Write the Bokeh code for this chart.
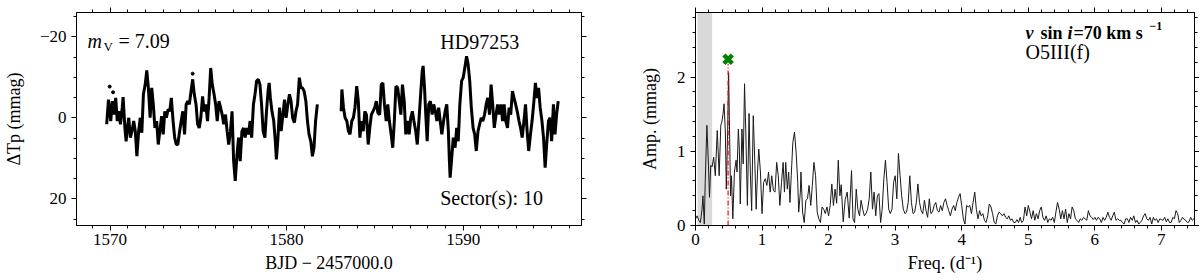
from bokeh.plotting import figure
from bokeh.layouts import row
from bokeh.models import (Range1d, LinearAxis, SingleIntervalTicker, CustomJSTickFormatter,
                          Label, BoxAnnotation)
from bokeh.embed import file_html
from bokeh.resources import INLINE

FONT = "Liberation Serif"

# ---------------- light curve (BJD - 2457000, dTp in mmag) ----------------
seg1_bjd = [
    1569.81, 1569.91, 1570.04, 1570.13, 1570.22, 1570.32, 1570.41, 1570.50, 1570.59, 1570.69,
    1570.74, 1570.84, 1570.91, 1570.98, 1571.06, 1571.15, 1571.24, 1571.34, 1571.43, 1571.52,
    1571.62, 1571.71, 1571.80, 1571.89, 1571.99, 1572.08, 1572.17, 1572.27, 1572.36, 1572.45,
    1572.54, 1572.64, 1572.73, 1572.82, 1572.92, 1573.01, 1573.10, 1573.19, 1573.29, 1573.38,
    1573.47, 1573.57, 1573.66, 1573.75, 1573.84, 1573.94, 1574.03, 1574.12, 1574.22, 1574.31,
    1574.40, 1574.49, 1574.59, 1574.68, 1574.77, 1574.87, 1574.96, 1575.05, 1575.14, 1575.24,
    1575.33, 1575.42, 1575.52, 1575.61, 1575.70, 1575.79, 1575.89, 1575.98, 1576.07, 1576.17,
    1576.26, 1576.35, 1576.44, 1576.54, 1576.63, 1576.72, 1576.82, 1576.91, 1577.00, 1577.09,
    1577.19, 1577.28, 1577.37, 1577.47, 1577.56, 1577.65, 1577.74, 1577.84, 1577.93, 1578.02,
    1578.12, 1578.21, 1578.30, 1578.39, 1578.49, 1578.58, 1578.67, 1578.77, 1578.86, 1578.95,
    1579.01, 1579.08, 1579.17, 1579.27, 1579.36, 1579.42, 1579.51, 1579.60, 1579.69, 1579.79,
    1579.88, 1579.97, 1580.07, 1580.16, 1580.25, 1580.34, 1580.44, 1580.53, 1580.62, 1580.72,
    1580.81, 1580.90, 1580.99, 1581.09, 1581.18, 1581.27, 1581.37, 1581.46, 1581.55, 1581.64,
    1581.74]
seg1_dtp = [
    1.6, -4.5, 0.8, -4.1, -0.8, -4.9, 0.8, -1.6, 1.6, -2.5,
    -5.1, 2.5, 5.8, 2.5, 0.0, 4.9, 3.3, 0.8, 3.3, 9.5,
    3.3, 0.0, 3.7, -5.8, -8.2, -11.7, -7.4, 0.0, -7.4, -3.3,
    2.5, 0.8, 6.6, 3.3, -0.4, 4.1, -1.6, 0.0, -2.1, -1.6,
    -4.9, 0.8, 4.9, 6.6, 6.6, 3.3, 0.8, -1.6, 4.1, -3.3,
    -4.1, -3.3, -6.6, -9.5, -5.8, -3.3, 1.6, 2.5, 0.0, -5.3,
    -1.6, -3.3, 0.8, -4.9, -12.3, -8.2, -5.8, -3.3, 0.8, -4.1,
    -2.5, -0.8, 1.6, -0.8, 3.3, 6.6, 3.3, -1.6, 10.7, 15.6,
    9.1, 4.9, 10.7, 3.3, 2.5, 4.9, 2.5, 4.1, 0.8, 4.9,
    -3.3, -5.8, -9.1, -9.5, -8.2, -3.3, 3.3, 4.9, -1.6, -6.6,
    -8.6, -4.9, -1.6, 0.8, 5.8, 10.3, 4.9, -2.5, 3.3, -0.8,
    -4.5, 0.0, -3.3, -5.8, -4.1, 0.0, 1.2, -1.6, -3.3, -9.9,
    -7.4, -7.4, -6.6, -4.1, 0.8, 4.1, 5.8, 9.5, 7.4, 0.8,
    -3.3]

seg2_bjd = [
    1583.09, 1583.13, 1583.22, 1583.31, 1583.41, 1583.50, 1583.59, 1583.69, 1583.78, 1583.87,
    1583.97, 1584.06, 1584.15, 1584.24, 1584.34, 1584.43, 1584.52, 1584.62, 1584.71, 1584.80,
    1584.89, 1584.99, 1585.08, 1585.17, 1585.27, 1585.36, 1585.45, 1585.54, 1585.64, 1585.73,
    1585.82, 1585.92, 1586.01, 1586.10, 1586.19, 1586.29, 1586.38, 1586.47, 1586.56, 1586.66,
    1586.75, 1586.84, 1586.94, 1587.03, 1587.12,
    1587.21, 1587.31, 1587.40, 1587.49, 1587.59, 1587.68, 1587.73, 1587.81, 1587.88, 1587.96,
    1588.05, 1588.14, 1588.24, 1588.33, 1588.42, 1588.51, 1588.61, 1588.70, 1588.79, 1588.89,
    1588.98, 1589.07, 1589.16, 1589.22, 1589.26, 1589.35, 1589.44, 1589.54, 1589.63, 1589.72,
    1589.81, 1589.91, 1590.00, 1590.09, 1590.19, 1590.28, 1590.37, 1590.46, 1590.56, 1590.65,
    1590.74, 1590.84, 1590.93, 1591.02, 1591.11, 1591.21, 1591.30, 1591.39, 1591.49, 1591.58,
    1591.67, 1591.76, 1591.86, 1591.95, 1592.04, 1592.14, 1592.23, 1592.32, 1592.41, 1592.51,
    1592.60, 1592.69, 1592.79, 1592.88, 1592.97, 1593.06, 1593.16, 1593.25, 1593.34, 1593.44,
    1593.53, 1593.62, 1593.71, 1593.81, 1593.90, 1593.99, 1594.09, 1594.18, 1594.27, 1594.36,
    1594.46, 1594.55, 1594.64, 1594.74, 1594.83, 1594.92, 1595.01, 1595.11, 1595.20, 1595.29,
    1595.38]
seg2_dtp = [
    -1.6, -7.0, -2.5, 0.0, 0.8, 3.3, 4.1, 0.8, 0.0, -2.5,
    -7.8, -4.1, 4.9, 0.8, 3.3, -1.6, -0.8, 6.6, 2.5, -0.8,
    -1.6, -2.5, -4.1, -1.2, -0.8, -8.2, -8.6, -3.3, 0.8, -3.3,
    0.8, 4.1, 7.4, 0.8, -7.8, -7.4, -4.1, -0.8, -8.2, -4.1,
    4.1, 0.8, 4.1, 0.0, -1.6,
    0.8, 3.3, 6.6, 0.8, -5.8, -11.5, -12.8, -7.4, -0.8, 5.8,
    -3.3, -4.1, -0.8, -3.3, -1.6, 0.8, -2.5, 0.8, 4.1, 0.8,
    -1.6, -3.3, 3.3, 10.7, 14.8, 9.9, 4.9, 7.4, 2.5, 5.8,
    -3.3, -9.1, -9.9, -12.3, -15.2, -13.2, -9.1, -2.5, 2.5, 4.1,
    8.2, 3.3, 1.6, 0.0, 0.8, -0.8, -3.3, -4.9, -0.8, -8.2,
    -3.3, 2.5, -0.8, -3.3, -0.8, -3.3, 0.8, -3.3, 0.8, 2.5,
    -2.5, -0.8, -6.6, -4.9, -3.3, -1.6, 0.8, 2.5, 4.9, 0.8,
    -3.3, 3.3, 8.2, 4.1, 0.8, -3.3, -8.6, -4.9, -7.4, -2.5,
    0.8, 4.9, 12.3, 5.8, 0.8, 0.0, 5.8, -3.3, 4.1, -0.8,
    -4.1]

outlier_bjd = [1569.98, 1570.17, 1574.68]
outlier_dtp = [-7.7, -6.3, -10.9]

# ---------------- amplitude spectrum ----------------
freq = [
    0.000, 0.024, 0.049, 0.073, 0.098, 0.112, 0.132, 0.146, 0.171, 0.195,
    0.210, 0.229, 0.249, 0.273, 0.298, 0.327, 0.356, 0.380, 0.395, 0.415,
    0.429, 0.449, 0.463, 0.483, 0.498, 0.512, 0.527, 0.541, 0.561, 0.585,
    0.610, 0.624, 0.644, 0.659, 0.673, 0.698, 0.717, 0.737, 0.756, 0.780,
    0.805, 0.824, 0.844, 0.868, 0.893, 0.912, 0.932, 0.951, 0.976, 1.000,
    1.024, 1.049, 1.073, 1.098, 1.122, 1.146, 1.171, 1.195, 1.220, 1.244,
    1.268, 1.293, 1.317, 1.337, 1.356, 1.380, 1.400, 1.420, 1.439, 1.463,
    1.488, 1.512, 1.537, 1.551, 1.576, 1.585, 1.610, 1.634, 1.659, 1.683,
    1.707, 1.732, 1.756, 1.780, 1.805, 1.829, 1.854, 1.878, 1.902, 1.927,
    1.951, 1.976, 2.000, 2.024, 2.049, 2.073, 2.098, 2.122, 2.146, 2.170,
    2.190, 2.220, 2.250, 2.280, 2.310, 2.345, 2.367, 2.391, 2.416, 2.440,
    2.465, 2.489, 2.513, 2.538, 2.562, 2.587, 2.611, 2.635, 2.660, 2.684,
    2.709, 2.733, 2.757, 2.782, 2.806, 2.831, 2.855, 2.879, 2.904, 2.928,
    2.953, 2.977, 3.001, 3.026, 3.050, 3.075, 3.099, 3.123, 3.148, 3.172,
    3.197, 3.221, 3.245, 3.270, 3.294, 3.319, 3.343, 3.367, 3.392, 3.416,
    3.441, 3.465, 3.489, 3.514, 3.538, 3.562, 3.587, 3.611, 3.636, 3.660,
    3.684, 3.709, 3.733, 3.758, 3.782, 3.806, 3.831, 3.855, 3.880, 3.904,
    3.928, 3.953, 3.977, 4.001, 4.026, 4.050, 4.075, 4.099, 4.123, 4.148,
    4.172, 4.197, 4.221, 4.246, 4.270, 4.294, 4.319, 4.343, 4.367, 4.392,
    4.416, 4.441, 4.465, 4.490, 4.514, 4.538, 4.563, 4.587, 4.612, 4.636,
    4.661, 4.685, 4.709, 4.734, 4.758, 4.783, 4.807, 4.831, 4.856, 4.880,
    4.904, 4.929, 4.953, 4.978, 5.002, 5.027, 5.051, 5.075, 5.100, 5.124,
    5.149, 5.173, 5.197, 5.222, 5.246, 5.271, 5.295, 5.319, 5.344, 5.368,
    5.393, 5.417, 5.441, 5.466, 5.490, 5.515, 5.539, 5.563, 5.588, 5.612,
    5.637, 5.661, 5.685, 5.710, 5.734, 5.759, 5.783, 5.807, 5.832, 5.856,
    5.881, 5.905, 5.929, 5.954, 5.978, 6.003, 6.027, 6.051, 6.076, 6.100,
    6.125, 6.149, 6.173, 6.198, 6.222, 6.247, 6.271, 6.295, 6.320, 6.344,
    6.369, 6.393, 6.417, 6.442, 6.466, 6.491, 6.515, 6.539, 6.564, 6.588,
    6.613, 6.637, 6.661, 6.686, 6.710, 6.735, 6.759, 6.783, 6.808, 6.832,
    6.857, 6.881, 6.905, 6.930, 6.954, 6.979, 7.003, 7.027, 7.052, 7.076,
    7.100, 7.125, 7.149, 7.174, 7.198, 7.222, 7.247, 7.271, 7.296, 7.320,
    7.345, 7.369, 7.393, 7.418, 7.442, 7.466, 7.500]
amp = [
    0.09, 0.13, 0.07, 0.04, 0.22, 0.40, 0.02, 0.58, 1.35, 0.81,
    0.38, 0.81, 0.79, 0.92, 0.67, 1.28, 0.67, 1.35, 1.39, 1.51,
    1.64, 1.26, 0.49, 1.26, 2.06, 1.26, 0.40, 0.67, 0.09, 0.72,
    0.88, 0.72, 1.30, 1.03, 0.29, 1.30, 0.83, 1.91, 1.26, 0.27,
    1.51, 0.72, 0.20, 1.48, 0.81, 0.22, 0.72, 1.03, 0.72, 0.16,
    0.58, 0.63, 0.54, 0.72, 0.45, 0.67, 0.47, 0.45, 0.85, 0.67,
    0.27, 0.58, 0.85, 0.45, 0.85, 0.49, 0.72, 0.31, 0.67, 1.12,
    1.26, 0.99, 0.58, 0.18, 0.45, 0.72, 0.18, 0.04, 0.34, 0.36,
    0.54, 0.27, 0.54, 0.85, 0.67, 0.18, 0.09, 0.04, 0.25, 0.22,
    0.16, 0.25, 0.13, 0.27, 0.56, 0.27, 0.49, 0.30, 0.88, 0.40,
    0.55, 0.05, 0.35, 0.45, 0.10, 0.74, 0.09, 0.04, 0.49, 0.22,
    0.13, 0.34, 0.22, 0.13, 0.16, 0.22, 0.36, 0.72, 0.22, 0.45,
    0.13, 0.40, 0.43, 0.04, 0.22, 0.63, 0.88, 0.58, 0.22, 0.16,
    0.22, 0.58, 0.67, 0.36, 0.97, 0.67, 0.40, 0.22, 0.16, 0.18,
    0.31, 0.67, 0.31, 0.16, 0.18, 0.31, 0.56, 0.31, 0.20, 0.16,
    0.34, 0.20, 0.11, 0.36, 0.16, 0.18, 0.27, 0.31, 0.20, 0.18,
    0.27, 0.20, 0.31, 0.36, 0.27, 0.20, 0.13, 0.22, 0.27, 0.20,
    0.31, 0.38, 0.43, 0.27, 0.09, 0.02, 0.27, 0.25, 0.27, 0.16,
    0.31, 0.45, 0.22, 0.09, 0.20, 0.13, 0.16, 0.07, 0.04, 0.13,
    0.29, 0.25, 0.16, 0.04, 0.02, 0.13, 0.18, 0.16, 0.13, 0.16,
    0.11, 0.09, 0.13, 0.07, 0.09, 0.04, 0.04, 0.08, 0.04, 0.11,
    0.04, 0.07, 0.25, 0.13, 0.27, 0.18, 0.09, 0.20, 0.07, 0.16,
    0.09, 0.20, 0.25, 0.11, 0.07, 0.13, 0.04, 0.09, 0.07, 0.11,
    0.04, 0.18, 0.31, 0.22, 0.09, 0.20, 0.09, 0.22, 0.04, 0.16,
    0.09, 0.25, 0.20, 0.09, 0.07, 0.04, 0.09, 0.07, 0.11, 0.09,
    0.07, 0.20, 0.13, 0.11, 0.08, 0.11, 0.07, 0.11, 0.09, 0.04,
    0.11, 0.07, 0.11, 0.18, 0.11, 0.07, 0.13, 0.18, 0.07, 0.09,
    0.07, 0.07, 0.04, 0.02, 0.09, 0.09, 0.04, 0.11, 0.07, 0.13,
    0.04, 0.07, 0.02, 0.04, 0.07, 0.13, 0.16, 0.09, 0.07, 0.11,
    0.02, 0.11, 0.07, 0.09, 0.04, 0.09, 0.08, 0.07, 0.11, 0.05,
    0.09, 0.04, 0.04, 0.11, 0.09, 0.20, 0.16, 0.04, 0.07, 0.11,
    0.08, 0.07, 0.04, 0.05, 0.11, 0.07, 0.10]

peak_freq = [0.49]
peak_line_top = [2.18]
peak_marker_amp = [2.24]
lowfreq_band = (0.03, 0.25)

X1 = (1568.1, 1596.7)
Y1 = (26.6, -26.0)
X2 = (0.0, 7.5)
Y2 = (0.0, 2.87)

H = 280


def style_axis(ax, labels=True, tick_size="17px", standoff=3):
    ax.axis_line_color = "black"
    ax.major_tick_line_color = "black"
    ax.minor_tick_line_color = "black"
    ax.major_tick_in = 0
    ax.major_tick_out = 5
    ax.minor_tick_in = 0
    ax.minor_tick_out = 3
    if labels:
        ax.major_label_text_font = FONT
        ax.major_label_text_font_size = tick_size
        ax.major_label_text_color = "black"
        ax.major_label_standoff = standoff
        ax.axis_label_text_font = FONT
        ax.axis_label_text_font_size = "18px"
        ax.axis_label_text_font_style = "normal"
        ax.axis_label_text_color = "black"
    else:
        ax.major_label_text_font_size = "0px"
        ax.major_label_text_color = None
        ax.major_label_standoff = 0


minus_fmt = CustomJSTickFormatter(
    code="return (tick < 0 ? '\\u2212' : '') + Math.abs(tick).toString();")


def text_label(x, y, text, size="20px", style="normal", dx=0, dy=0, **kw):
    return Label(x=x, y=y, x_offset=dx, y_offset=dy, text=text, text_font=FONT,
                 text_font_size=size, text_font_style=style, text_baseline="middle",
                 text_color="black", **kw)


# ---------------- left panel ----------------
p1 = figure(width=636, height=H, output_backend="svg", toolbar_location=None,
            x_range=Range1d(*X1), y_range=Range1d(*Y1),
            min_border_left=67, min_border_right=55, min_border_top=12, min_border_bottom=55)
p1.xgrid.visible = False
p1.ygrid.visible = False
p1.outline_line_color = "black"
p1.background_fill_color = "white"

p1.line(seg1_bjd, seg1_dtp, line_color="black", line_width=3)
p1.line(seg2_bjd, seg2_dtp, line_color="black", line_width=3)
p1.scatter(outlier_bjd, outlier_dtp, size=3, color="black")

p1.xaxis.ticker = SingleIntervalTicker(interval=10, num_minor_ticks=10)
p1.yaxis.ticker = SingleIntervalTicker(interval=20, num_minor_ticks=4)
p1.yaxis.formatter = minus_fmt
p1.xaxis.axis_label = "BJD \u2212 2457000.0"
p1.yaxis.axis_label = "\u0394Tp (mmag)"
style_axis(p1.xaxis[0], True, standoff=3)
style_axis(p1.yaxis[0], True, standoff=5)
p1.yaxis[0].axis_label_standoff = 13
p1.xaxis[0].axis_label_standoff = 5

top1 = LinearAxis(ticker=SingleIntervalTicker(interval=10, num_minor_ticks=10))
right1 = LinearAxis(ticker=SingleIntervalTicker(interval=20, num_minor_ticks=4))
style_axis(top1, False)
style_axis(right1, False)
p1.add_layout(top1, "above")
p1.add_layout(right1, "right")

p1.add_layout(text_label(1568.72, -18.9, "m", style="italic"))
p1.add_layout(text_label(1568.72, -18.9, "V", size="13px", dx=16, dy=-5))
p1.add_layout(text_label(1568.72, -18.9, "= 7.09", dx=31))
p1.add_layout(text_label(1588.7, -18.7, "HD97253"))
p1.add_layout(text_label(1588.7, 19.8, "Sector(s): 10"))

# ---------------- right panel ----------------
p2 = figure(width=563, height=H, output_backend="svg", toolbar_location=None,
            x_range=Range1d(*X2), y_range=Range1d(*Y2),
            min_border_left=46, min_border_right=1, min_border_top=12, min_border_bottom=55)
p2.xgrid.visible = False
p2.ygrid.visible = False
p2.outline_line_color = "black"
p2.background_fill_color = "white"

p2.add_layout(BoxAnnotation(left=lowfreq_band[0], right=lowfreq_band[1], fill_color="#d9d9d9",
                            fill_alpha=1.0, line_color=None, level="underlay"))
p2.line(freq, amp, line_color="#1a1a1a", line_width=1)
p2.segment(x0=peak_freq, y0=[0], x1=peak_freq, y1=peak_line_top, line_color="red",
           line_width=1.2, line_dash="5 2 1 2")
p2.scatter(peak_freq, peak_marker_amp, marker="x", size=12, line_width=4.5, color="green")

p2.xaxis.ticker = SingleIntervalTicker(interval=1, num_minor_ticks=5)
p2.yaxis.ticker = SingleIntervalTicker(interval=1, num_minor_ticks=5)
p2.xaxis.axis_label = "Freq. (d\u207b\u00b9)"
p2.yaxis.axis_label = "Amp. (mmag)"
style_axis(p2.xaxis[0], True, standoff=3)
style_axis(p2.yaxis[0], True, standoff=5)
p2.yaxis[0].axis_label_standoff = 14
p2.xaxis[0].axis_label_standoff = 5

top2 = LinearAxis(ticker=SingleIntervalTicker(interval=1, num_minor_ticks=5))
right2 = LinearAxis(ticker=SingleIntervalTicker(interval=1, num_minor_ticks=5))
style_axis(top2, False)
style_axis(right2, False)
p2.add_layout(top2, "above")
p2.add_layout(right2, "right")

tx, ty = 4.96, 2.60
p2.add_layout(text_label(tx, ty, "v", size="18px", style="bold italic"))
p2.add_layout(text_label(tx, ty, "sin", size="18px", style="bold", dx=15))
p2.add_layout(text_label(tx, ty, "i", size="18px", style="bold italic", dx=42))
p2.add_layout(text_label(tx, ty, "=70 km s", size="18px", style="bold", dx=48))
p2.add_layout(text_label(tx, ty, "\u22121", size="12px", style="bold", dx=124, dy=7))
p2.add_layout(text_label(tx, 2.34, "O5III(f)", size="20px"))

layout = row(p1, p2)
open("out.html", "w").write(file_html(layout, INLINE))
